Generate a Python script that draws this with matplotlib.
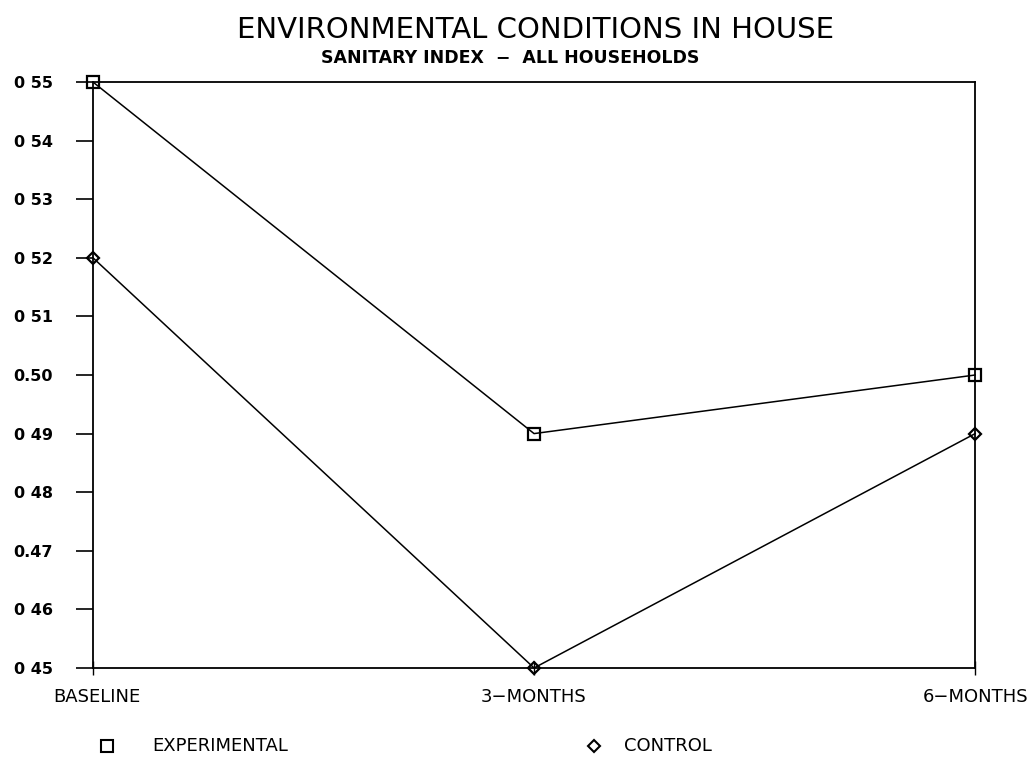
import matplotlib
matplotlib.use("Agg")
import matplotlib.pyplot as plt

# ── data ─────────────────────────────────────────────────────────────
periods = ["BASELINE", "3\u2212MONTHS", "6\u2212MONTHS"]
experimental = [0.55, 0.49, 0.50]
control = [0.52, 0.45, 0.49]
yticks = [0.45, 0.46, 0.47, 0.48, 0.49, 0.50, 0.51, 0.52, 0.53, 0.54, 0.55]
ytick_labels = ["0 45", "0 46", "0.47", "0 48", "0 49", "0.50",
                "0 51", "0 52", "0 53", "0 54", "0 55"]

plt.rcParams["font.family"] = ["DejaVu Sans"]

fig = plt.figure(figsize=(10.33, 7.74), dpi=100)
ax = fig.add_axes([0.090, 0.137, 0.854, 0.757])

x = list(range(len(periods)))
ax.plot(x, experimental, color="black", lw=1.1, marker="s", ms=8,
        mfc="none", mec="black", mew=1.6, clip_on=False, zorder=3)
ax.plot(x, control, color="black", lw=1.1, marker="D", ms=6,
        mfc="none", mec="black", mew=1.6, clip_on=False, zorder=3)

ax.set_xlim(0, 2)
ax.set_ylim(0.45, 0.55)
ax.set_yticks(yticks)
ax.set_yticklabels(ytick_labels, fontsize=11.5, fontweight="bold")
ax.set_xticks(x)
ax.set_xticklabels([])
ax.tick_params(axis="y", direction="out", length=12, width=1.2, pad=17)
ax.tick_params(axis="x", direction="inout", length=10, width=1.0)
for s in ax.spines.values():
    s.set_linewidth(1.3)

# category labels under the axis
xt = ax.get_xaxis_transform()
ax.text(-0.09, -0.05, periods[0], transform=xt, ha="left", va="center",
        fontsize=13)
ax.text(1.0, -0.05, periods[1], transform=xt, ha="center", va="center",
        fontsize=13)
ax.text(2.12, -0.05, periods[2], transform=xt, ha="right", va="center",
        fontsize=13)

# titles
fig.text(0.518, 0.961, "ENVIRONMENTAL CONDITIONS IN HOUSE", ha="center",
         va="center", fontsize=21)
fig.text(0.494, 0.925, "SANITARY INDEX  \u2212  ALL HOUSEHOLDS", ha="center",
         va="center", fontsize=12.5, fontweight="bold")

# legend row
ly = 0.036
fig.lines.append(plt.Line2D([0.104], [ly], marker="s", ms=8, mfc="none",
                            mec="black", mew=1.5, transform=fig.transFigure))
fig.text(0.147, ly, "EXPERIMENTAL", ha="left", va="center", fontsize=13)
fig.lines.append(plt.Line2D([0.575], [ly], marker="D", ms=6, mfc="none",
                            mec="black", mew=1.5, transform=fig.transFigure))
fig.text(0.604, ly, "CONTROL", ha="left", va="center", fontsize=13)

fig.savefig("out.png", dpi=100)
